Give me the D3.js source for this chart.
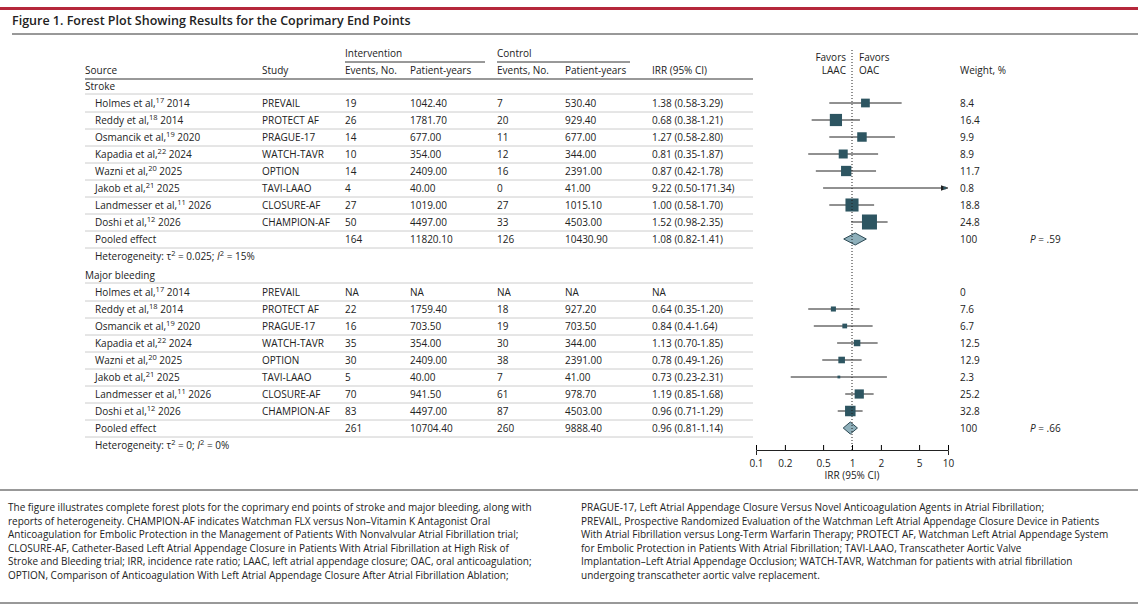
<!DOCTYPE html>
<html><head><meta charset="utf-8">
<script src="https://cdn.jsdelivr.net/npm/d3@7"></script>
<style>
body{margin:0;background:#fff;}
text{font-family:"Open Sans",sans-serif;fill:#222;}
</style></head>
<body><svg id="chart" width="1138" height="607"></svg>
<script>
// data
const sources = [["Holmes et al,", "17", " 2014"], ["Reddy et al,", "18", " 2014"], ["Osmancik et al,", "19", " 2020"],
  ["Kapadia et al,", "22", " 2024"], ["Wazni et al,", "20", " 2025"], ["Jakob et al,", "21", " 2025"],
  ["Landmesser et al,", "11", " 2026"], ["Doshi et al,", "12", " 2026"]];
const studies = ["PREVAIL", "PROTECT AF", "PRAGUE-17", "WATCH-TAVR", "OPTION", "TAVI-LAAO", "CLOSURE-AF", "CHAMPION-AF"];

const strokeIntEvents = ["19", "26", "14", "10", "14", "4", "27", "50"];
const strokeIntPY = ["1042.40", "1781.70", "677.00", "354.00", "2409.00", "40.00", "1019.00", "4497.00"];
const strokeCtlEvents = ["7", "20", "11", "12", "16", "0", "27", "33"];
const strokeCtlPY = ["530.40", "929.40", "677.00", "344.00", "2391.00", "41.00", "1015.10", "4503.00"];
const strokeIRR = [1.38, 0.68, 1.27, 0.81, 0.87, 9.22, 1.00, 1.52];
const strokeLo = [0.58, 0.38, 0.58, 0.35, 0.42, 0.50, 0.58, 0.98];
const strokeHi = [3.29, 1.21, 2.80, 1.87, 1.78, 171.34, 1.70, 2.35];
const strokeIRRText = ["1.38 (0.58-3.29)", "0.68 (0.38-1.21)", "1.27 (0.58-2.80)", "0.81 (0.35-1.87)", "0.87 (0.42-1.78)", "9.22 (0.50-171.34)", "1.00 (0.58-1.70)", "1.52 (0.98-2.35)"];
const strokeWeight = [8.4, 16.4, 9.9, 8.9, 11.7, 0.8, 18.8, 24.8];
const strokePooled = {events: "164", py: "11820.10", cEvents: "126", cPy: "10430.90", irr: 1.08, lo: 0.82, hi: 1.41, text: "1.08 (0.82-1.41)", p: ".59"};

const bleedIntEvents = ["NA", "22", "16", "35", "30", "5", "70", "83"];
const bleedIntPY = ["NA", "1759.40", "703.50", "354.00", "2409.00", "40.00", "941.50", "4497.00"];
const bleedCtlEvents = ["NA", "18", "19", "30", "38", "7", "61", "87"];
const bleedCtlPY = ["NA", "927.20", "703.50", "344.00", "2391.00", "41.00", "978.70", "4503.00"];
const bleedIRR = [null, 0.64, 0.84, 1.13, 0.78, 0.73, 1.19, 0.96];
const bleedLo = [null, 0.35, 0.4, 0.70, 0.49, 0.23, 0.85, 0.71];
const bleedHi = [null, 1.20, 1.64, 1.85, 1.26, 2.31, 1.68, 1.29];
const bleedIRRText = ["NA", "0.64 (0.35-1.20)", "0.84 (0.4-1.64)", "1.13 (0.70-1.85)", "0.78 (0.49-1.26)", "0.73 (0.23-2.31)", "1.19 (0.85-1.68)", "0.96 (0.71-1.29)"];
const bleedWeight = [0, 7.6, 6.7, 12.5, 12.9, 2.3, 25.2, 32.8];
const bleedPooled = {events: "261", py: "10704.40", cEvents: "260", cPy: "9888.40", irr: 0.96, lo: 0.81, hi: 1.14, text: "0.96 (0.81-1.14)", p: ".66"};

const axisTicks = [0.1, 0.2, 0.5, 1, 2, 5, 10];

const leftCaption = [
 "The figure illustrates complete forest plots for the coprimary end points of stroke and major bleeding, along with",
 "reports of heterogeneity. CHAMPION-AF indicates Watchman FLX versus Non–Vitamin K Antagonist Oral",
 "Anticoagulation for Embolic Protection in the Management of Patients With Nonvalvular Atrial Fibrillation trial;",
 "CLOSURE-AF, Catheter-Based Left Atrial Appendage Closure in Patients With Atrial Fibrillation at High Risk of",
 "Stroke and Bleeding trial; IRR, incidence rate ratio; LAAC, left atrial appendage closure; OAC, oral anticoagulation;",
 "OPTION, Comparison of Anticoagulation With Left Atrial Appendage Closure After Atrial Fibrillation Ablation;"];
const rightCaption = [
 "PRAGUE-17, Left Atrial Appendage Closure Versus Novel Anticoagulation Agents in Atrial Fibrillation;",
 "PREVAIL, Prospective Randomized Evaluation of the Watchman Left Atrial Appendage Closure Device in Patients",
 "With Atrial Fibrillation versus Long-Term Warfarin Therapy; PROTECT AF, Watchman Left Atrial Appendage System",
 "for Embolic Protection in Patients With Atrial Fibrillation; TAVI-LAAO, Transcatheter Aortic Valve",
 "Implantation–Left Atrial Appendage Occlusion; WATCH-TAVR, Watchman for patients with atrial fibrillation",
 "undergoing transcatheter aortic valve replacement."];

const svg = d3.select("#chart");
const x = d3.scaleLog().domain([0.1, 10]).range([756, 948]);
const cols = {src: 85, study: 262, ev: 345, py: 410, cev: 497, cpy: 565, irr: 652, w: 960, p: 1030};
const fs = 10;

svg.append("defs").append("marker").attr("id", "arr").attr("viewBox", "0 0 10 10")
  .attr("refX", 10).attr("refY", 5).attr("markerWidth", 7).attr("markerHeight", 7).attr("orient", "auto")
  .append("path").attr("d", "M0,1L10,5L0,9Z").attr("fill", "#222");

// top rules & title
svg.append("rect").attr("x", 0).attr("y", 7).attr("width", 1138).attr("height", 3).attr("fill", "#b5283b");
svg.append("text").attr("x", 12).attr("y", 25).attr("font-size", 12.5)
  .style("font-weight", 600).text("Figure 1. Forest Plot Showing Results for the Coprimary End Points");
svg.append("line").attr("x1", 12).attr("x2", 1138).attr("y1", 34).attr("y2", 34).attr("stroke", "#333");

function txt(xp, y, s, opts = {}) {
  const t = svg.append("text").attr("x", xp).attr("y", y).attr("font-size", opts.size || fs).text(s);
  if (opts.anchor) t.attr("text-anchor", opts.anchor);
  return t;
}
function hline(x1, x2, y, c = "#ccc", w = 1) {
  svg.append("line").attr("x1", x1).attr("x2", x2).attr("y1", y).attr("y2", y).attr("stroke", c).attr("stroke-width", w);
}

// headers
txt(cols.ev, 57, "Intervention"); hline(cols.ev, 485, 62, "#333");
txt(cols.cev, 57, "Control"); hline(cols.cev, 630, 62, "#333");
txt(cols.src, 74, "Source"); txt(cols.study, 74, "Study"); txt(cols.ev, 74, "Events, No.");
txt(cols.py, 74, "Patient-years"); txt(cols.cev, 74, "Events, No."); txt(cols.cpy, 74, "Patient-years");
txt(cols.irr, 74, "IRR (95% CI)"); txt(cols.w, 74, "Weight, %");
txt(846, 61, "Favors", {anchor: "end"}); txt(846, 74, "LAAC", {anchor: "end"});
txt(859, 61, "Favors"); txt(859, 74, "OAC");
hline(cols.src, 753, 79, "#333");

function panel(y0, title, d, maxSide) {
  txt(cols.src, y0 + 8, title);
  hline(cols.src, 753, y0 + 12);
  const maxW = d3.max(d.weight);
  const side = w => maxSide * Math.sqrt(w / maxW);
  for (let i = 0; i < 8; i++) {
    const y = y0 + 21 + 17 * i;
    const t = txt(cols.src + 10, y + 4, sources[i][0]);
    t.append("tspan").attr("dy", -4).attr("font-size", 7.5).text(sources[i][1]);
    t.append("tspan").attr("dy", 4).text(sources[i][2]);
    txt(cols.study, y + 4, studies[i]);
    txt(cols.ev, y + 4, d.ev[i]); txt(cols.py, y + 4, d.py[i]);
    txt(cols.cev, y + 4, d.cev[i]); txt(cols.cpy, y + 4, d.cpy[i]);
    txt(cols.irr, y + 4, d.irrText[i]); txt(cols.w, y + 4, String(d.weight[i]));
    hline(cols.src, 753, y + 9);
    if (d.irr[i] != null) {
      const hi = Math.min(d.hi[i], 10);
      const l = svg.append("line").attr("x1", x(d.lo[i])).attr("x2", x(hi)).attr("y1", y).attr("y2", y)
        .attr("stroke", "#222").attr("stroke-width", 1);
      if (d.hi[i] > 10) l.attr("marker-end", "url(#arr)");
      const s = side(d.weight[i]);
      svg.append("rect").attr("x", x(d.irr[i]) - s / 2).attr("y", y - s / 2).attr("width", s).attr("height", s)
        .attr("fill", "#2d5561");
    }
  }
  const yp = y0 + 21 + 17 * 8;
  txt(cols.src + 10, yp + 4, "Pooled effect");
  txt(cols.ev, yp + 4, d.pooled.events); txt(cols.py, yp + 4, d.pooled.py);
  txt(cols.cev, yp + 4, d.pooled.cEvents); txt(cols.cpy, yp + 4, d.pooled.cPy);
  txt(cols.irr, yp + 4, d.pooled.text); txt(cols.w, yp + 4, "100");
  const pt = txt(cols.p, yp + 4, ""); pt.append("tspan").attr("font-style", "italic").text("P");
  pt.append("tspan").text(" = " + d.pooled.p);
  hline(cols.src, 753, yp + 9);
  const p = d.pooled;
  svg.append("path").attr("d", `M${x(p.lo)},${yp}L${x(p.irr)},${yp - 6}L${x(p.hi)},${yp}L${x(p.irr)},${yp + 6}Z`)
    .attr("fill", "#8fb0bb").attr("stroke", "#2d4a55");
  const yh = yp + 17;
  const h = txt(cols.src + 10, yh + 4, "Heterogeneity: τ");
  h.append("tspan").attr("dy", -4).attr("font-size", 7.5).text("2");
  h.append("tspan").attr("dy", 4).text(" = " + d.tau + "; ");
  h.append("tspan").attr("font-style", "italic").text("I");
  h.append("tspan").attr("dy", -4).attr("font-size", 7.5).text("2");
  h.append("tspan").attr("dy", 4).text(" = " + d.i2);
}

panel(82, "Stroke", {ev: strokeIntEvents, py: strokeIntPY, cev: strokeCtlEvents, cpy: strokeCtlPY,
  irr: strokeIRR, lo: strokeLo, hi: strokeHi, irrText: strokeIRRText, weight: strokeWeight, pooled: strokePooled, tau: "0.025", i2: "15%"}, 15);
panel(271, "Major bleeding", {ev: bleedIntEvents, py: bleedIntPY, cev: bleedCtlEvents, cpy: bleedCtlPY,
  irr: bleedIRR, lo: bleedLo, hi: bleedHi, irrText: bleedIRRText, weight: bleedWeight, pooled: bleedPooled, tau: "0", i2: "0%"}, 10.5);

// null line
svg.append("line").attr("x1", x(1)).attr("x2", x(1)).attr("y1", 50).attr("y2", 450)
  .attr("stroke", "#222").attr("stroke-dasharray", "1,2");

// axis
const ax = svg.append("g").attr("transform", "translate(0,450)")
  .call(d3.axisBottom(x).tickValues(axisTicks).tickFormat(d3.format("~g")).tickSizeOuter(0).tickSize(5));
ax.select(".domain").attr("stroke", "#222");
ax.selectAll("text").attr("font-size", 10).style("font-family", "'Open Sans',sans-serif").attr("dy", "0.9em");
ax.selectAll(".tick line").attr("y2", -5);
txt(x(1), 479, "IRR (95% CI)", {anchor: "middle", size: 10});

// caption
hline(0, 1138, 490, "#333");
leftCaption.forEach((s, i) => txt(8, 511 + 13.6 * i, s, {size: 10}));
rightCaption.forEach((s, i) => txt(581, 511 + 13.6 * i, s, {size: 10}));
hline(0, 1138, 603, "#333");
</script></body></html>
